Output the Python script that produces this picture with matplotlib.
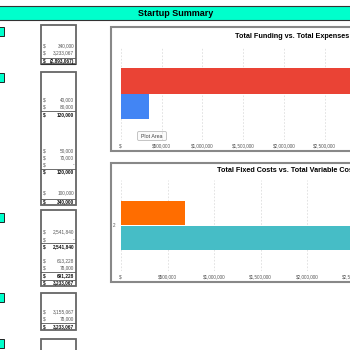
import matplotlib.pyplot as plt
from matplotlib.patches import Rectangle, FancyBboxPatch

# chart data
funding_labels = ["Total Funding", "Total Expenses"]
funding_values = [340000, 3233067]
cost_labels = ["Total Fixed Costs", "Total Variable Costs"]
cost_values = [691228, 2541840]
tick_values = [0, 500000, 1000000, 1500000, 2000000, 2500000, 3000000, 3500000]

# spreadsheet cell values (text column beside the charts)
box1_vals = ["340,000", "3,233,067", "(2,893,067)"]
box2_vals = ["40,000", "80,000", "120,000", "50,000", "70,000", "-", "120,000", "100,000", "340,000"]
box3_vals = ["2,541,840", "-", "2,541,840", "613,228", "78,000", "691,228", "3,233,067"]
box4_vals = ["3,155,067", "78,000", "3,233,067"]

TEAL = "#00ffcc"
fig = plt.figure(figsize=(3.5, 3.5), dpi=100)
plt.rcParams['font.family'] = ['Liberation Sans', 'DejaVu Sans']

# overlay in pixel coordinates
ov = fig.add_axes([0, 0, 1, 1])
ov.set_xlim(0, 350)
ov.set_ylim(350, 0)
ov.axis("off")

# header band
ov.add_patch(Rectangle((-2, 6), 360, 14, facecolor=TEAL, edgecolor="#333333", lw=0.8))
ov.text(176, 13.5, "Startup Summary", ha="center", va="center", fontsize=6.5, weight="bold")

# small teal cells at the left edge
for y0 in [27, 73, 213, 293, 339]:
    ov.add_patch(Rectangle((-3, y0), 6.5, 9, facecolor=TEAL, edgecolor="#222222", lw=0.7))

# boxes with values
boxes = [(25, 64), (72, 205), (210, 286), (293, 330), (339, 360)]
for top, bot in boxes:
    ov.add_patch(Rectangle((40.5, top), 35, bot - top, facecolor="white", edgecolor="#666666", lw=1.3))


def cell(y, val, bold=False, line_above=False):
    w = "bold" if bold else "normal"
    col = "#111111" if bold else "#555555"
    ov.text(43, y, "$", fontsize=3.4, color=col, va="center", ha="left", weight=w)
    ov.text(74, y, val, fontsize=3.4, color=col, va="center", ha="right", weight=w)
    if line_above:
        ov.plot([41, 75], [y - 3.5, y - 3.5], color="#555555", lw=0.6)


ys1 = [46, 53, 61]
for i, v in enumerate(box1_vals):
    cell(ys1[i], v, bold=(i == 2), line_above=(i == 2))
ov.plot([41, 75], [64, 64], color="#333333", lw=0.8)

ys2 = [100, 107, 114.5, 151, 158, 165, 172, 193, 202]
bold2 = [2, 6, 8]
for i, v in enumerate(box2_vals):
    cell(ys2[i], v, bold=(i in bold2), line_above=(i in bold2))

ys3 = [232, 239.5, 246.5, 261, 268, 275.5, 283]
bold3 = [2, 5, 6]
for i, v in enumerate(box3_vals):
    cell(ys3[i], v, bold=(i in bold3), line_above=(i in bold3))

ys4 = [312, 319, 326.5]
for i, v in enumerate(box4_vals):
    cell(ys4[i], v, bold=(i == 2), line_above=(i == 2))

# chart frames
ov.add_patch(Rectangle((110.5, 27), 260, 124, facecolor="white", edgecolor="#888888", lw=1.5))
ov.add_patch(Rectangle((110.5, 163), 260, 119, facecolor="white", edgecolor="#888888", lw=1.5))
ov.text(349, 36, "Total Funding vs. Total Expenses", ha="right", va="center", fontsize=5.2, weight="bold")
ov.text(217, 171, "Total Fixed Costs vs. Total Variable Costs", ha="left", va="center", fontsize=5.2,
        weight="bold")


def money(v):
    return "$-" if v == 0 else "${:,.0f}".format(v)


def bar_chart(left, top, bottom, px_per_500k, top_val, bot_val, top_col, bot_col, xmax, ylab=None):
    width = px_per_500k * xmax / 500000
    a = fig.add_axes([left / 350, 1 - bottom / 350, width / 350, (bottom - top) / 350])
    a.patch.set_alpha(0)
    h = 0.27
    a.barh([h / 2, -h / 2], [top_val, bot_val], height=h, color=[top_col, bot_col], zorder=3)
    a.set_xlim(0, xmax)
    a.set_ylim(-0.5, 0.5)
    ticks = [t for t in tick_values if t <= xmax]
    a.set_xticks(ticks)
    a.set_xticklabels([money(t) for t in ticks], fontsize=3.3, color="#555555")
    a.tick_params(length=0, pad=2.5)
    if ylab:
        a.set_yticks([0])
        a.set_yticklabels([ylab], fontsize=3.3, color="#555555")
        a.tick_params(axis="y", pad=4)
    else:
        a.set_yticks([])
    a.grid(axis="x", color="#dddddd", ls=(0, (2, 2)), lw=0.6, zorder=0)
    for s in a.spines.values():
        s.set_visible(False)
    return a


bar_chart(121, 47, 140, 40.7, funding_values[1], funding_values[0], "#ea4335", "#4285f4", 3500000)
bar_chart(121, 180, 271, 46.5, cost_values[0], cost_values[1], "#ff6d00", "#46bdc6", 3000000, ylab="2")

# "Plot Area" tooltip
ov.add_patch(FancyBboxPatch((138, 132), 28, 8, boxstyle="round,pad=0.5,rounding_size=1.5",
                            facecolor="#fbfbfb", edgecolor="#bbbbbb", lw=0.6, zorder=5))
ov.text(152, 136, "Plot Area", ha="center", va="center", fontsize=3.8, color="#444444", zorder=6)

fig.savefig("out.png", dpi=100)
